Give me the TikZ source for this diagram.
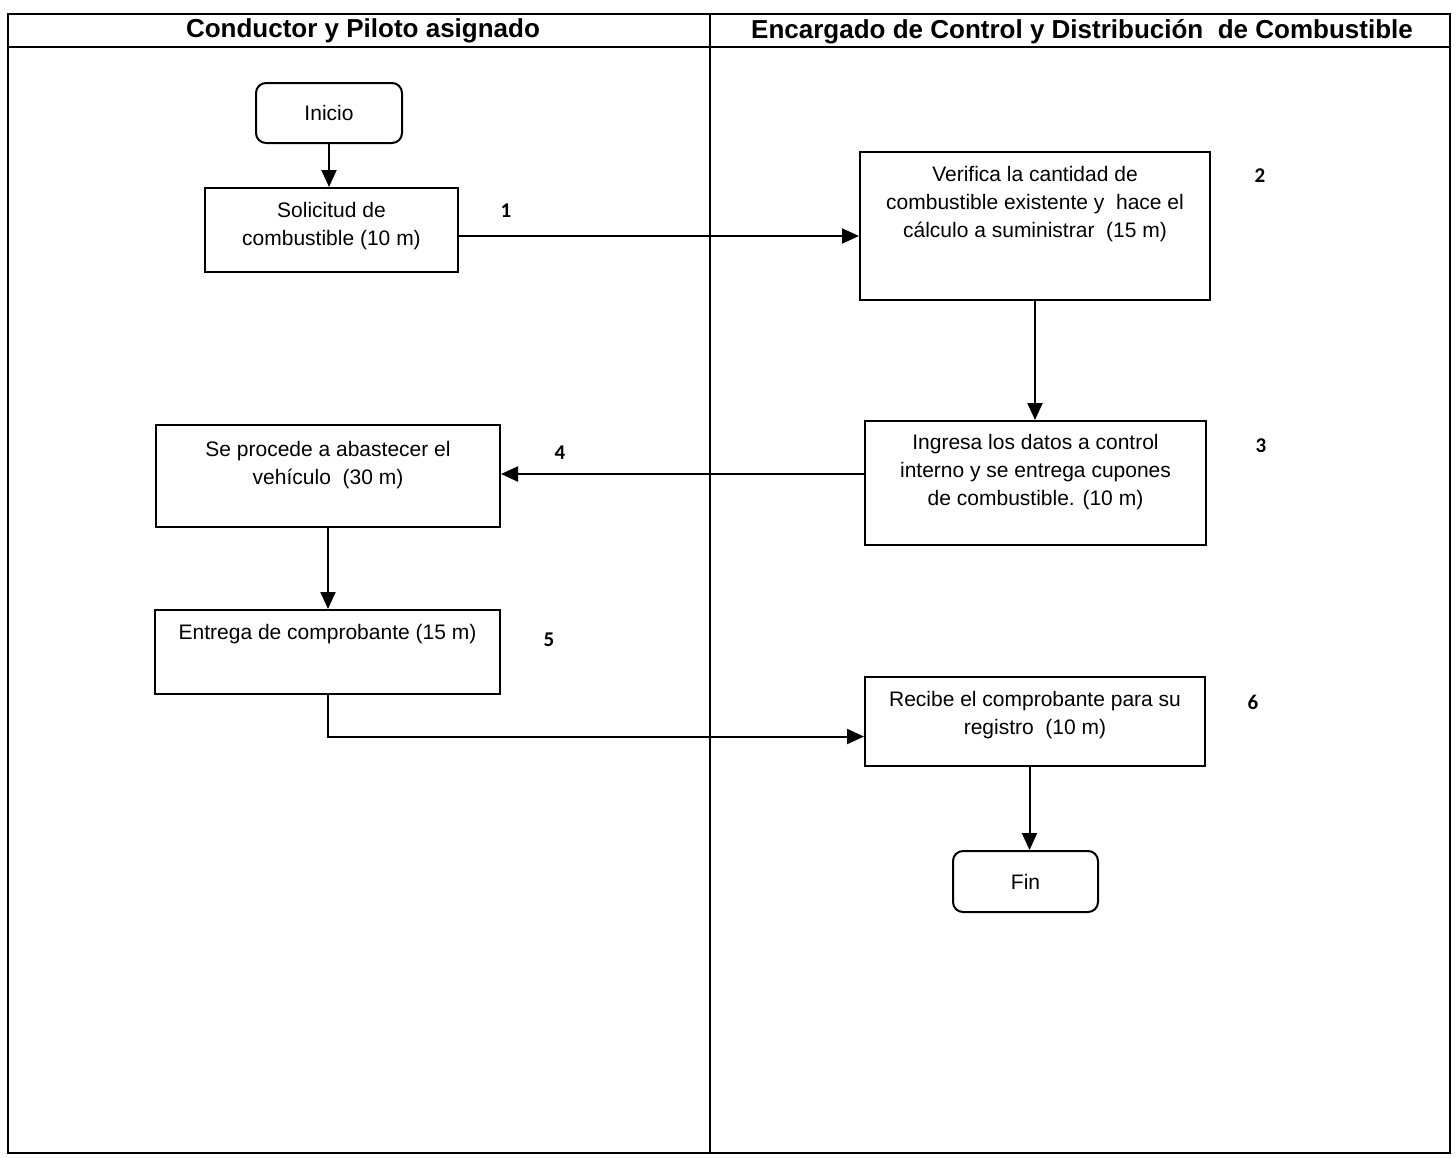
\documentclass[tikz,border=0pt]{standalone}
\usepackage{fontspec}
\setmainfont{Liberation Sans}
\newfontfamily\numfont{Carlito}
\usetikzlibrary{arrows.meta}
\begin{document}
\begin{tikzpicture}[x=1pt,y=-1pt,
  box/.style={draw, line width=2pt, inner sep=0pt},
  term/.style={box, rounded corners=10pt, font=\fontsize{21}{28}\selectfont},
  txt/.style={font=\fontsize{21}{28}\selectfont, align=center, inner sep=0pt},
  head/.style={font=\fontsize{26}{30}\selectfont\bfseries, inner sep=0pt},
  num/.style={font=\fontsize{21}{24}\selectfont\numfont\bfseries, inner sep=0pt},
  arr/.style={line width=2pt, -{Triangle[length=17pt,width=15pt]}},
  lane/.style={line width=2pt}]
\useasboundingbox (0,0) rectangle (1456,1157);
% swimlanes
\draw[lane] (8,14) rectangle (1450,1153);
\draw[lane] (8,47) -- (1450,47);
\draw[lane] (710,14) -- (710,1153);
\node[head] (h1) at (363,31) {Conductor y Piloto asignado};
\node[head] (h2) at (1082,31.5) {Encargado de Control y Distribución\ \ de Combustible};
% nodes
\node[term, minimum width=146pt, minimum height=60pt] (b0) at (329,113) {Inicio};
\node[box, minimum width=253pt, minimum height=84pt] (b1) at (331.5,230) {};
\node[txt] (t1) at (331.5,226) {Solicitud de\\combustible (10 m)};
\node[box, minimum width=350pt, minimum height=148pt] (b2) at (1035,226) {};
\node[txt] (t2) at (1035,204) {Verifica la cantidad de\\combustible existente y\ \ hace el\\cálculo a suministrar\ \ (15 m)};
\node[box, minimum width=341pt, minimum height=124pt] (b3) at (1035.5,483) {};
\node[txt] (t3) at (1035.5,472) {Ingresa los datos a control\\interno y se entrega cupones\\de combustible. (10 m)};
\node[box, minimum width=344pt, minimum height=102pt] (b4) at (328,476) {};
\node[txt] (t4) at (328,465) {Se procede a abastecer el\\vehículo\ \ (30 m)};
\node[box, minimum width=345pt, minimum height=84pt] (b5) at (327.5,652) {};
\node[txt] (t5) at (327.5,634) {Entrega de comprobante (15 m)};
\node[box, minimum width=340pt, minimum height=89pt] (b6) at (1035,721.5) {};
\node[txt] (t6) at (1035,715) {Recibe el comprobante para su\\registro\ \ (10 m)};
\node[term, minimum width=145pt, minimum height=61pt] (fin) at (1025.5,881.5) {Fin};
% step numbers
\node[num] (n1) at (506,211) {1};
\node[num] (n2) at (1260,176) {2};
\node[num] (n3) at (1261,446) {3};
\node[num] (n4) at (560,453) {4};
\node[num] (n5) at (549,640) {5};
\node[num] (n6) at (1253,702) {6};
% connectors
\draw[arr] (b0.south) -- (b0.south |- b1.north);
\draw[arr] ([yshift=-6pt]b1.east) -- ([yshift=-6pt]b1.east -| b2.west);
\draw[arr] (b2.south) -- (b2.south |- b3.north);
\draw[arr] ([yshift=9pt]b3.west) -- ([yshift=9pt]b3.west -| b4.east);
\draw[arr] (b4.south) -- (b4.south |- b5.north);
\draw[arr] (b5.south) |- ([yshift=-15pt]b6.west);
\draw[arr] ([xshift=4pt]fin.north |- b6.south) -- ([xshift=4pt]fin.north);
\end{tikzpicture}
\end{document}
